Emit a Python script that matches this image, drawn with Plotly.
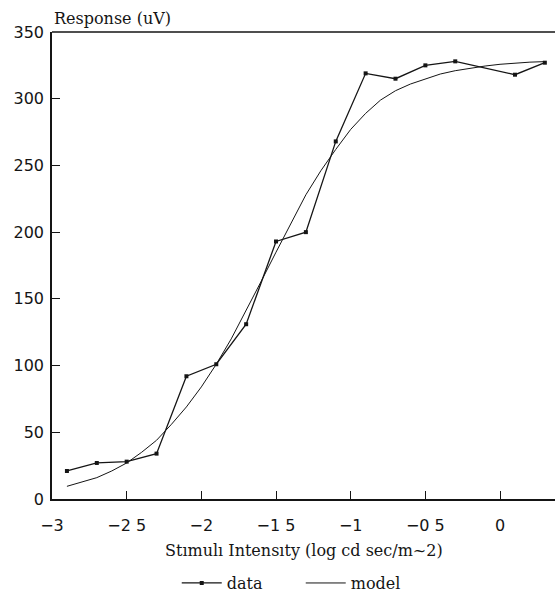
import plotly.graph_objects as go

# Measured ERG responses at each stimulus intensity
intensity = [-2.9, -2.7, -2.5, -2.3, -2.1, -1.9, -1.7, -1.5, -1.3, -1.1,
             -0.9, -0.7, -0.5, -0.3, 0.1, 0.3]
response = [21, 27, 28, 34, 92, 101, 131, 193, 200, 268,
            319, 315, 325, 328, 318, 327]

# Fitted intensity-response model, sampled every 0.1 log unit
model_x = [-2.9, -2.8, -2.7, -2.6, -2.5, -2.4, -2.3, -2.2, -2.1, -2.0,
           -1.9, -1.8, -1.7, -1.6, -1.5, -1.4, -1.3, -1.2, -1.1, -1.0,
           -0.9, -0.8, -0.7, -0.6, -0.5, -0.4, -0.3, -0.2, -0.1, 0.0,
           0.1, 0.2, 0.3]
model_y = [9.5, 12.5, 16, 21, 27, 35, 44, 56, 69, 84,
           101, 120, 141, 163, 185, 207, 228, 246, 262, 277,
           289, 299, 306, 311, 315, 318.5, 321, 323, 324.5, 325.8,
           326.8, 327.4, 327.8]

x_tickvals = [-3, -2.5, -2, -1.5, -1, -0.5, 0]
x_ticktext = ["\u22123", "\u22122 5", "\u22122", "\u22121 5", "\u22121", "\u22120 5", "0"]
y_tickvals = [0, 50, 100, 150, 200, 250, 300, 350]

INK = "#151515"
SERIF = "DejaVu Serif"
SANS = "DejaVu Sans"

fig = go.Figure()
fig.add_trace(go.Scatter(
    x=intensity, y=response, mode="lines+markers", name="data",
    line=dict(color=INK, width=1.3),
    marker=dict(symbol="square", size=4, color=INK),
))
fig.add_trace(go.Scatter(
    x=model_x, y=model_y, mode="lines", name="model",
    line=dict(color=INK, width=1.0),
))

fig.update_layout(
    width=555, height=606,
    margin=dict(l=52, r=0, t=32, b=107),
    paper_bgcolor="white", plot_bgcolor="white",
    showlegend=True,
    legend=dict(
        orientation="h", x=0.248, xanchor="left", y=-0.18, yanchor="middle",
        font=dict(family=SERIF, size=16, color=INK),
        entrywidth=69, entrywidthmode="pixels",
        itemwidth=40,
        bgcolor="rgba(0,0,0,0)",
    ),
    xaxis=dict(
        range=[-3, 0.368], tickmode="array",
        tickvals=x_tickvals, ticktext=x_ticktext,
        ticks="inside", ticklen=8, tickwidth=1.2, tickcolor=INK,
        showline=True, linecolor=INK, linewidth=1.5,
        showgrid=False, zeroline=False,
        tickfont=dict(family=SANS, size=16, color=INK),
        ticklabelstandoff=11,
    ),
    yaxis=dict(
        range=[0, 350], tickmode="array", tickvals=y_tickvals,
        ticks="inside", ticklen=8, tickwidth=1.2, tickcolor=INK,
        showline=True, linecolor=INK, linewidth=1.5,
        showgrid=False, zeroline=False,
        tickfont=dict(family=SANS, size=16, color=INK),
        ticklabelstandoff=3,
    ),
    shapes=[dict(type="line", xref="paper", yref="paper", x0=0, x1=1, y0=1, y1=1,
                 line=dict(color=INK, width=1.5))],
    annotations=[
        dict(text="Response (uV)", xref="paper", yref="paper", x=0.0, y=1.0,
             xanchor="left", yanchor="bottom", yshift=2, showarrow=False,
             font=dict(family=SERIF, size=16, color=INK)),
        dict(text="St\u0131mul\u0131 Intens\u0131ty (log cd sec/m~2)",
             xref="paper", yref="paper", x=0.5, y=-0.1093, xanchor="center",
             yanchor="middle", showarrow=False,
             font=dict(family=SERIF, size=16, color=INK)),
    ],
)

fig.write_html("out.html")
